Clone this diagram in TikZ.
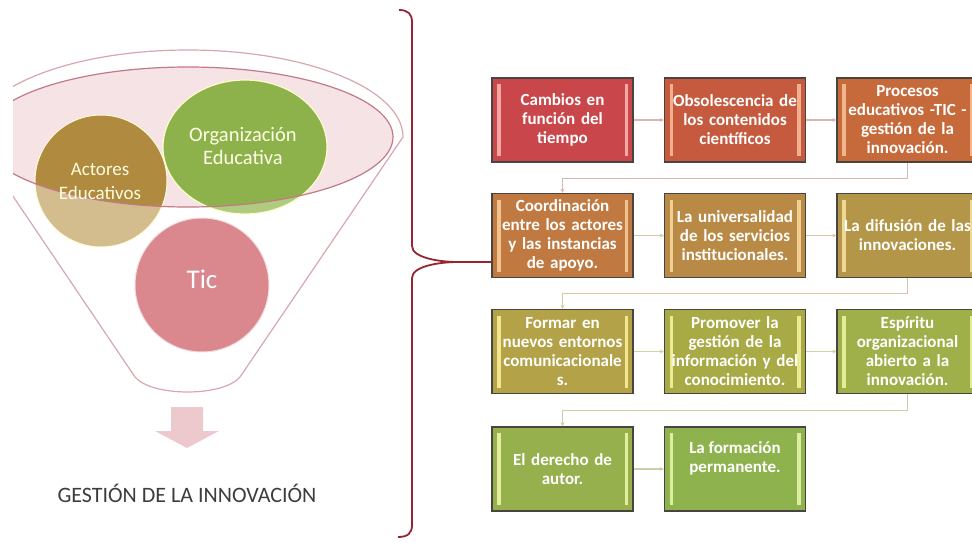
\documentclass[tikz,border=0pt]{standalone}
\usepackage{fontspec}
\setmainfont{Carlito}
\usetikzlibrary{arrows.meta}
\definecolor{c1}{HTML}{C9474B}
\definecolor{c2}{HTML}{C65A3E}
\definecolor{c3}{HTML}{C76A3B}
\definecolor{c4}{HTML}{C07A41}
\definecolor{c5}{HTML}{B98A45}
\definecolor{c6}{HTML}{B39648}
\definecolor{c7}{HTML}{B3A247}
\definecolor{c8}{HTML}{A8AA46}
\definecolor{c9}{HTML}{9FAF4A}
\definecolor{c10}{HTML}{95B04C}
\definecolor{c11}{HTML}{8EB34E}
\definecolor{l1}{HTML}{F5A7A6}
\definecolor{l2}{HTML}{F2B08F}
\definecolor{l3}{HTML}{F0B58A}
\definecolor{l4}{HTML}{F0C38E}
\definecolor{l5}{HTML}{EFCF92}
\definecolor{l6}{HTML}{EFD895}
\definecolor{l7}{HTML}{F3E68E}
\definecolor{l8}{HTML}{ECEA92}
\definecolor{l9}{HTML}{E5EC96}
\definecolor{l10}{HTML}{E2EE9C}
\definecolor{l11}{HTML}{DDEE9E}
\definecolor{boxborder}{HTML}{4A4440}
\definecolor{k1}{HTML}{D6B8B0}
\definecolor{k2}{HTML}{D8C8A4}
\definecolor{k3}{HTML}{D2D2A0}
\definecolor{k4}{HTML}{C8D0A8}
\definecolor{bracecol}{HTML}{962433}
\definecolor{funnelout}{HTML}{D8A7AE}
\definecolor{funnelin}{HTML}{C27A86}
\definecolor{rimfill}{HTML}{F5E3E6}
\definecolor{actdark}{HTML}{B08A3E}
\definecolor{actlight}{HTML}{D3BD8F}
\definecolor{orgdark}{HTML}{8DB24C}
\definecolor{orglight}{HTML}{AECB80}
\definecolor{ticcol}{HTML}{DA878E}
\definecolor{arrowpink}{HTML}{EDC8CC}
\definecolor{gesttext}{HTML}{3C3C3C}
\tikzset{
  gbox/.style 2 args={draw=boxborder, line width=1.4pt, fill=#1,
    minimum width=141pt, minimum height=84pt, inner sep=2pt, text=white,
    font=\bfseries\fontsize{17}{19}\selectfont, align=center, text width=137pt,
    path picture={
      \fill[#2] ([xshift=5pt,yshift=-6pt]path picture bounding box.north west)
        rectangle ([xshift=8.5pt,yshift=6pt]path picture bounding box.south west);
      \fill[#2] ([xshift=-5pt,yshift=-6pt]path picture bounding box.north east)
        rectangle ([xshift=-8.5pt,yshift=6pt]path picture bounding box.south east);
    }},
  boxtext/.style={text=white, font=\bfseries\fontsize{17}{19}\selectfont, align=center},
  hconn/.style={draw=#1, line width=1.2pt, -{Stealth[length=4pt,width=4pt]}},
  circtext/.style={align=center, text=#1},
}
\begin{document}
\begin{tikzpicture}[x=1pt,y=-1pt]
\useasboundingbox (0,0) rectangle (972,543);
% ---------------- funnel ----------------
\begin{scope}
\clip (13,0) rectangle (430,543);
\draw[funnelout, line width=1.2pt] (403,137) arc[start angle=0,end angle=180,x radius=215pt,y radius=87pt]
  -- (135,377) .. controls (152,397) and (223,397) .. (240,377) -- cycle;
\fill[rimfill] (188,137) ellipse[x radius=205pt, y radius=70pt];
\fill[actlight] (101,181) circle[radius=66pt];
\begin{scope}
\clip (188,137) ellipse[x radius=205pt, y radius=70pt];
\fill[actdark] (101,181) circle[radius=66pt];
\end{scope}
\draw[white!85!yellow, line width=1pt] (101,181) circle[radius=66pt];
\fill[orglight] (245,147) ellipse[x radius=82pt, y radius=67pt];
\begin{scope}
\clip (188,137) ellipse[x radius=205pt, y radius=70pt];
\fill[orgdark] (245,147) ellipse[x radius=82pt, y radius=67pt];
\end{scope}
\draw[white!80!yellow, line width=1.2pt] (245,147) ellipse[x radius=82pt, y radius=67pt];
\draw[funnelin, line width=1.2pt] (188,137) ellipse[x radius=205pt, y radius=70pt];
\fill[ticcol] (202,285) circle[radius=67pt];
\draw[white!70!ticcol, line width=1pt] (202,285) circle[radius=67pt];
\end{scope}
\node[circtext={white!88!yellow}, font=\fontsize{19}{24}\selectfont] (act) at (100,181) {Actores\\Educativos};
\node[circtext={white!90!yellow}, font=\fontsize{20.5}{23}\selectfont] (org) at (243,146) {Organización\\Educativa};
\node[circtext=white, font=\fontsize{27}{30}\selectfont] (tic) at (202,279) {Tic};
% block arrow
\fill[arrowpink] (171,407) -- (203,407) -- (203,431) -- (219,431) -- (187,448) -- (155,431) -- (171,431) -- cycle;
\node[text=gesttext, font=\fontsize{22}{24}\selectfont] (gest) at (187,493) {GESTIÓN DE LA INNOVACIÓN};
% ---------------- boxes ----------------
\node[gbox={c1}{l1}]   (b1)  at (562.5,120) {Cambios en\\función del\\tiempo};
\node[gbox={c2}{l2}]   (b2)  at (735,120)   {Obsolescencia de\\los contenidos\\científicos};
\node[gbox={c3}{l3}]   (b3)  at (907.5,120) {Procesos\\educativos -TIC -\\gestión de la\\innovación.};
\node[gbox={c4}{l4}]   (b4)  at (562.5,235.5) {Coordinación\\entre los actores\\y las instancias\\de apoyo.};
\node[gbox={c5}{l5}]   (b5)  at (735,235.5)   {La universalidad\\de los servicios\\institucionales.};
\node[gbox={c6}{l6}]   (b6)  at (907.5,235.5) {La difusión de las\\innovaciones.};
\node[gbox={c7}{l7}]   (b7)  at (562.5,351.5) {Formar en\\nuevos entornos\\comunicacionale\\s.};
\node[gbox={c8}{l8}]   (b8)  at (735,351.5)   {Promover la\\gestión de la\\información y del\\conocimiento.};
\node[gbox={c9}{l9}]   (b9)  at (907.5,351.5) {Espíritu\\organizacional\\abierto a la\\innovación.};
\node[gbox={c10}{l10}] (b10) at (562.5,469)   {El derecho de\\autor.};
\node[gbox={c11}{l11}] (b11) at (735,469) {};
\node[boxtext] (t11) at ([yshift=11pt]b11.center) {La formación\\permanente.};
% connectors
\draw[hconn=k1] (b1) -- (b2);
\draw[hconn=k1] (b2) -- (b3);
\draw[hconn=k1] (b3.south) -- ++(0,15.5) -| (b4.north);
\draw[hconn=k2] (b4) -- (b5);
\draw[hconn=k2] (b5) -- (b6);
\draw[hconn=k2] (b6.south) -- ++(0,15.5) -| (b7.north);
\draw[hconn=k3] (b7) -- (b8);
\draw[hconn=k3] (b8) -- (b9);
\draw[hconn=k4] (b9.south) -- ++(0,16.5) -| (b10.north);
\draw[hconn=k4] (b10) -- (b11);
% ---------------- brace ----------------
\coordinate (tip) at (458,262);
\draw[bracecol, line width=1.8pt] (399,10) .. controls (408,10) and (412,14) .. (412,22)
  -- (412,246) .. controls (412,258) and (440,262) .. (tip)
  .. controls (440,262) and (412,266) .. (412,278)
  -- (412,525) .. controls (412,533) and (408,537) .. (398,537);
\draw[bracecol, line width=1.8pt] (tip) -- (tip -| b4.west);
\end{tikzpicture}
\end{document}
